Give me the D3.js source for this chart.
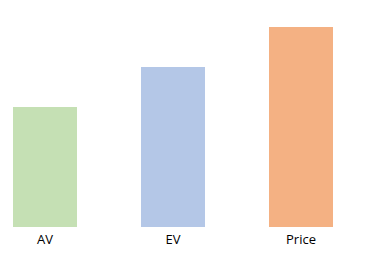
<!DOCTYPE html>
<html>
<head>
<meta charset="utf-8">
<script src="https://cdn.jsdelivr.net/npm/d3@7"></script>
<style>
    body { margin: 0; background: #fff; }
    .d3-x-label { font-family: "Open Sans", sans-serif; font-size: 13px; fill: #000; }
</style>
</head>
<body>
<svg id="chart"></svg>
<script>
var categories = ["AV", "EV", "Price"];
var values = [3, 4, 5];
var colors = ["#c5e0b4", "#b4c7e7", "#f4b183"];

var svg = d3.select("#chart")
    .attr("width", 368)
    .attr("height", 268);

// plot area
var margin = { top: 27, left: 13 };
var width = 320;
var height = 200;

var xScale = d3.scaleBand()
    .domain(categories)
    .range([0, width])
    .paddingInner(0.5)
    .paddingOuter(0);

var yScale = d3.scaleLinear()
    .domain([0, 5])
    .range([height, 0]);

var g = svg.append("g").attr("transform", "translate(" + margin.left + "," + margin.top + ")");

g.selectAll("rect")
    .data(values)
    .enter()
    .append("rect")
    .attr("x", function (d, i) { return xScale(categories[i]); })
    .attr("y", function (d) { return yScale(d); })
    .attr("width", xScale.bandwidth())
    .attr("height", function (d) { return height - yScale(d); })
    .attr("fill", function (d, i) { return colors[i]; });

// category labels
g.selectAll("text.d3-x-label")
    .data(categories)
    .enter()
    .append("text")
    .attr("class", "d3-x-label")
    .attr("text-anchor", "middle")
    .attr("x", function (d) { return xScale(d) + xScale.bandwidth() / 2; })
    .attr("y", height + 17)
    .text(function (d) { return d; });
</script>
</body>
</html>
